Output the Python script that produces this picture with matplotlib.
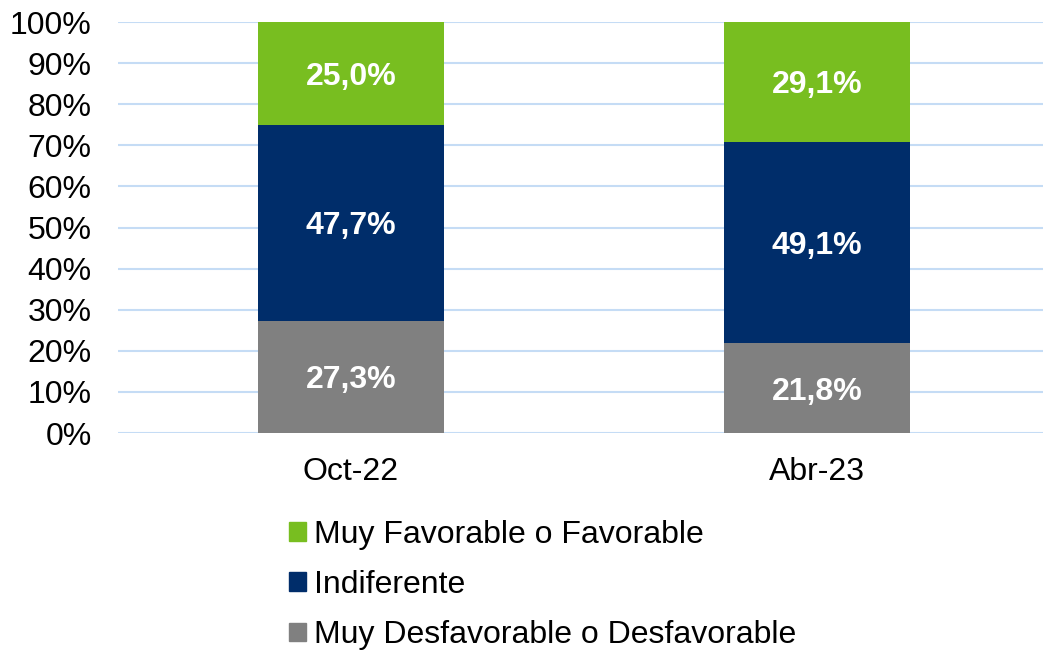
import matplotlib.pyplot as plt
import matplotlib.patches as mpatches
import numpy as np

plt.rcParams['font.family'] = ['Liberation Sans', 'DejaVu Sans']

# Data
periods = ['Oct-22', 'Abr-23']
desfavorable = [27.3, 21.8]
indiferente = [47.7, 49.1]
favorable = [25.0, 29.1]

series_names = ['Muy Desfavorable o Desfavorable', 'Indiferente', 'Muy Favorable o Favorable']
series_values = [desfavorable, indiferente, favorable]
series_colors = ['#808080', '#002D6A', '#78BE20']

fig = plt.figure(figsize=(10.43, 6.5), dpi=100)
ax = fig.add_axes([0.1131, 0.3338, 0.8936, 0.6323])

x = np.arange(len(periods))
bottom = np.zeros(len(periods))
handles = []
for name, vals, col in zip(series_names, series_values, series_colors):
  vals = np.array(vals)
  ax.bar(x, vals, width=0.4, bottom=bottom, color=col, label=name, zorder=3)
  for xi, b, v in zip(x, bottom, vals):
    ax.text(xi, b + v / 2, f'{v:.1f}%'.replace('.', ','), ha='center', va='center_baseline',
            color='white', fontsize=23, fontweight='bold', zorder=4)
  handles.append(mpatches.Patch(color=col, label=name))
  bottom += vals

ax.set_xlim(-0.5, 1.5)
ax.set_ylim(0, 100)
ax.set_yticks(np.arange(0, 101, 10))
ax.set_yticklabels([f'{t}%' for t in range(0, 101, 10)])
ax.set_xticks(x)
ax.set_xticklabels(periods)
ax.tick_params(axis='both', length=0, labelsize=23)
ax.tick_params(axis='y', pad=19)
ax.tick_params(axis='x', pad=17)
ax.grid(axis='y', color='#C5DCF5', linewidth=1.5, zorder=0)
for s in ax.spines.values():
  s.set_visible(False)

fig.legend(handles=handles[::-1], loc='upper left', bbox_to_anchor=(0.277, 0.200),
           frameon=False, fontsize=23, handlelength=0.52, handleheight=0.52,
           handletextpad=0.25, labelspacing=0.63, borderpad=0, borderaxespad=0)

fig.savefig('out.png', dpi=100)
